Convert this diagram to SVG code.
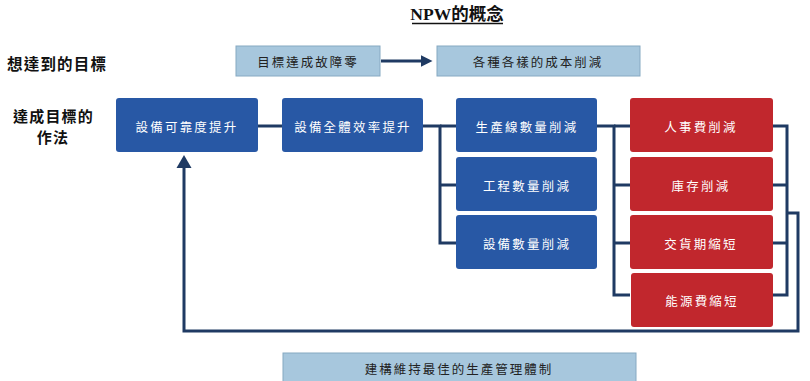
<svg xmlns="http://www.w3.org/2000/svg" width="810" height="381" viewBox="0 0 810 381">
<defs>
<style>
.blue{fill:#2858a5}
.red{fill:#c1272d}
.light{fill:#a7c7dd;stroke:#86a9c2;stroke-width:1}
.wt{fill:#fff;font-family:"Noto Sans CJK TC","Noto Sans",sans-serif;font-size:12.5px;letter-spacing:2.2px;text-anchor:middle;dominant-baseline:central}
.bt{fill:#222;font-family:"Noto Sans CJK TC","Noto Sans",sans-serif;font-size:12.5px;letter-spacing:2px;text-anchor:middle;dominant-baseline:central}
.lbl{fill:#111;font-family:"Noto Sans CJK TC","Noto Sans",sans-serif;font-size:15px;font-weight:bold;letter-spacing:1.2px;dominant-baseline:central}
.ln{fill:none;stroke:#1f3a63;stroke-width:3}
</style>
<marker id="ah" markerWidth="4" markerHeight="4" refX="2.5" refY="2" orient="auto" markerUnits="strokeWidth">
<path d="M0,0 L4,2 L0,4 Z" fill="#1f3a63"/>
</marker>
</defs>
<rect width="810" height="381" fill="#ffffff"/>
<g id="title">
<text x="457" y="20" text-anchor="middle" font-family="'Liberation Serif','Noto Sans CJK TC',serif" font-size="17.5" font-weight="bold" fill="#111">NPW的概念</text>
<line x1="412" y1="23.5" x2="503" y2="23.5" stroke="#111" stroke-width="1.3"/>
</g>
<g id="label-goal"><text class="lbl" x="7" y="63" style="font-size:15.5px">想達到的目標</text></g>
<g id="label-method"><text class="lbl" x="13" y="115">達成目標的</text><text class="lbl" x="53" y="136" text-anchor="middle">作法</text></g>

<g id="connectors">
<line class="ln" x1="381" y1="61" x2="428" y2="61" marker-end="url(#ah)"/>
<line class="ln" x1="258" y1="126" x2="282" y2="126"/>
<polyline class="ln" points="423,126 440,126 440,243 456,243"/>
<line class="ln" x1="440" y1="185" x2="456" y2="185"/>
<line class="ln" x1="440" y1="126" x2="456" y2="126"/>
<polyline class="ln" points="597,126 614,126 614,295 630,295"/>
<line class="ln" x1="614" y1="185" x2="630" y2="185"/>
<line class="ln" x1="614" y1="243" x2="630" y2="243"/>
<line class="ln" x1="614" y1="126" x2="630" y2="126"/>
<polyline class="ln" points="773,126 787,126 787,295 773,295"/>
<line class="ln" x1="773" y1="185" x2="787" y2="185"/>
<line class="ln" x1="773" y1="243" x2="787" y2="243"/>
<polyline class="ln" points="787,213 798,213 798,331 184,331 184,166"/>
<path d="M176.5,168 L184,155 L191.5,168 Z" fill="#1f3a63"/>
</g>

<g id="node-zero-failure"><rect class="light" x="236" y="46" width="144" height="30"/><text class="bt" x="308" y="61">目標達成故障零</text></g>
<g id="node-cost-reduction"><rect class="light" x="437" y="46" width="203" height="30"/><text class="bt" x="538" y="61">各種各樣的成本削減</text></g>

<g id="node-reliability"><rect class="blue" x="116" y="98" width="142" height="54" rx="3"/><text class="wt" x="187" y="126">設備可靠度提升</text></g>
<g id="node-oee"><rect class="blue" x="282" y="98" width="141" height="54" rx="3"/><text class="wt" x="353" y="126">設備全體效率提升</text></g>
<g id="node-lines"><rect class="blue" x="456" y="98" width="141" height="54" rx="3"/><text class="wt" x="527" y="126">生產線數量削減</text></g>
<g id="node-process"><rect class="blue" x="456" y="157" width="141" height="54" rx="3"/><text class="wt" x="527" y="185">工程數量削減</text></g>
<g id="node-equipment"><rect class="blue" x="456" y="215" width="141" height="54" rx="3"/><text class="wt" x="527" y="243">設備數量削減</text></g>

<g id="node-personnel"><rect class="red" x="630" y="98" width="143" height="54" rx="3"/><text class="wt" x="701" y="126">人事費削減</text></g>
<g id="node-inventory"><rect class="red" x="630" y="157" width="143" height="54" rx="3"/><text class="wt" x="701" y="185">庫存削減</text></g>
<g id="node-leadtime"><rect class="red" x="630" y="215" width="143" height="54" rx="3"/><text class="wt" x="701" y="243">交貨期縮短</text></g>
<g id="node-energy"><rect class="red" x="631" y="273" width="142" height="54" rx="3"/><text class="wt" x="702" y="300">能源費縮短</text></g>

<g id="node-system"><rect class="light" x="283" y="353" width="353" height="32"/><text class="bt" x="459" y="368">建構維持最佳的生產管理體制</text></g>
</svg>
